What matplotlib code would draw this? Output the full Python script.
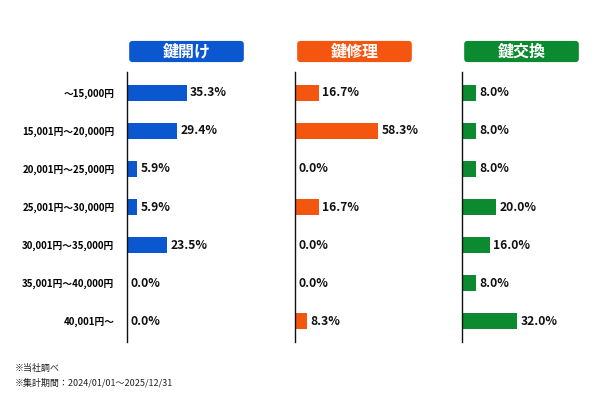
import matplotlib.pyplot as plt
from matplotlib.patches import FancyBboxPatch

plt.rcParams['font.family'] = ['Noto Sans CJK JP', 'DejaVu Sans']

categories = ['～15,000円', '15,001円～20,000円', '20,001円～25,000円',
              '25,001円～30,000円', '30,001円～35,000円', '35,001円～40,000円',
              '40,001円～']
titles = ['鍵開け', '鍵修理', '鍵交換']
akeake = [35.3, 29.4, 5.9, 5.9, 23.5, 0.0, 0.0]
shuri = [16.7, 58.3, 0.0, 16.7, 0.0, 0.0, 8.3]
koukan = [8.0, 8.0, 8.0, 20.0, 16.0, 8.0, 32.0]
series = [akeake, shuri, koukan]
colors = ['#0b57d0', '#f4560f', '#0b8a2f']
xmax = [70, 83, 68.6]
lefts = [127, 295, 462]

fig = plt.figure(figsize=(6, 4), dpi=100)
W, H = 600, 400

for i in range(3):
    ax = fig.add_axes([lefts[i] / W, 1 - 342 / H, 118 / W, 270 / H])
    y = list(range(len(categories)))
    ax.barh(y, series[i], height=0.4, color=colors[i])
    for yy, v in zip(y, series[i]):
        ax.text(v + xmax[i] * 0.03, yy, f'{v:.1f}%', va='center', ha='left',
                fontsize=8.7, fontweight='bold', color='#111111')
    ax.set_xlim(0, xmax[i])
    ax.set_ylim(6.55, -0.55)
    for s in ['top', 'right', 'bottom']:
        ax.spines[s].set_visible(False)
    ax.spines['left'].set_linewidth(1.0)
    ax.spines['left'].set_color('#111111')
    ax.set_xticks([])
    if i == 0:
        ax.set_yticks(y)
        ax.set_yticklabels(categories, fontsize=7, fontweight='bold')
        ax.tick_params(axis='y', length=0, pad=9)
    else:
        ax.set_yticks([])

    # header box
    bx = fig.add_axes([(lefts[i] + 1) / W, 1 - 63 / H, 117 / W, 23 / H])
    bx.set_xlim(0, 1)
    bx.set_ylim(0, 1)
    bx.axis('off')
    bx.add_patch(FancyBboxPatch((0.01, 0.04), 0.98, 0.92,
                                boxstyle='round,pad=0,rounding_size=0.03',
                                facecolor=colors[i], edgecolor='none',
                                mutation_aspect=5))
    bx.text(0.5, 0.5, titles[i], ha='center', va='center', color='white',
            fontsize=11.5, fontweight='bold')

fig.text(15 / W, 1 - 368 / H, '※当社調べ', fontsize=6.5, va='center', color='#222222')
fig.text(15 / W, 1 - 383 / H, '※集計期間：2024/01/01～2025/12/31', fontsize=6.5,
         va='center', color='#222222')

fig.savefig('out.png', dpi=100, facecolor='white')
